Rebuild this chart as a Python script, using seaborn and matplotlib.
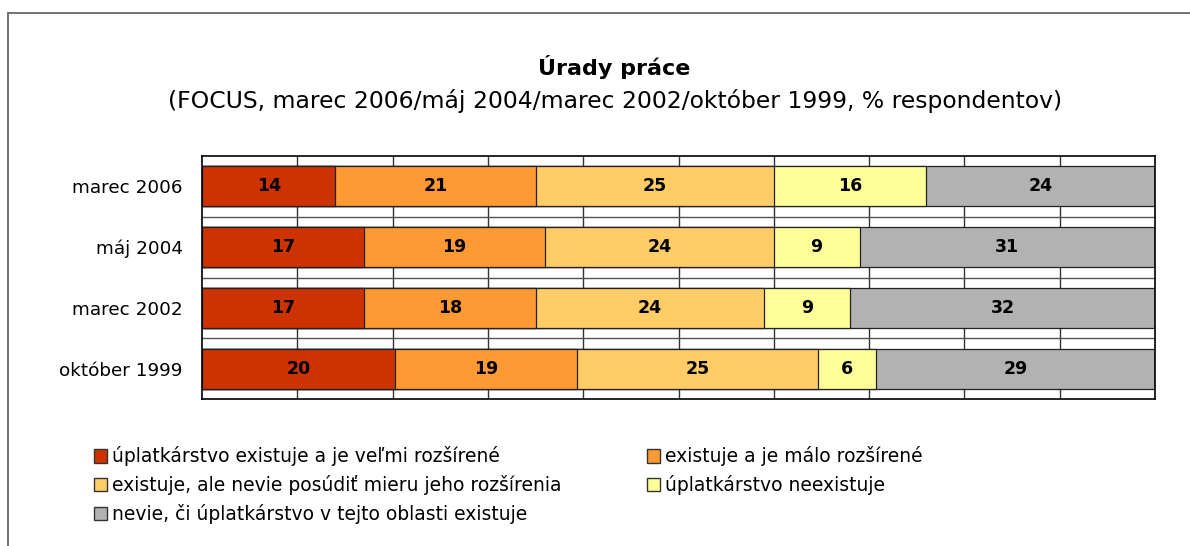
import numpy as np
import pandas as pd
import matplotlib
matplotlib.use("Agg")
import matplotlib.pyplot as plt
import matplotlib.patches as mpatches
import seaborn as sns

# ---- data ----
categories = ["marec 2006", "máj 2004", "marec 2002", "október 1999"]
series_names = [
    "úplatkárstvo existuje a je veľmi rozšírené",
    "existuje a je málo rozšírené",
    "existuje, ale nevie posúdiť mieru jeho rozšírenia",
    "úplatkárstvo neexistuje",
    "nevie, či úplatkárstvo v tejto oblasti existuje",
]
very_widespread = [14, 17, 17, 20]
little_widespread = [21, 19, 18, 19]
cannot_judge = [25, 24, 24, 25]
not_exist = [16, 9, 9, 6]
dont_know = [24, 31, 32, 29]
colors = ["#CC3300", "#FF9933", "#FFCC66", "#FFFF99", "#B2B2B2"]

title = "Úrady práce"
subtitle = "(FOCUS, marec 2006/máj 2004/marec 2002/október 1999, % respondentov)"

series = [very_widespread, little_widespread, cannot_judge, not_exist, dont_know]

sns.set_theme(style="white")
FONT = ["DejaVu Sans"]
plt.rcParams["font.family"] = FONT
plt.rcParams["text.color"] = "black"
plt.rcParams["ytick.color"] = "black"
plt.rcParams["ytick.labelcolor"] = "black"

fig = plt.figure(figsize=(11.9, 5.46), dpi=100)
ax = fig.add_axes([202 / 1190, 1 - 399 / 546, (1155 - 202) / 1190, (399 - 156) / 546])

# 100% stacked bars
vals = np.array(series, dtype=float)  # shape (5, 4)
totals = vals.sum(axis=0)
pct = vals / totals * 100
cum = np.cumsum(pct, axis=0)

df_rows = []
for i, name in enumerate(series_names):
    for j, cat in enumerate(categories):
        df_rows.append({"cat": cat, "series": name, "cum": cum[i, j],
                        "pct": pct[i, j], "val": vals[i, j]})
df = pd.DataFrame(df_rows)

# grid first (below bars)
for x in range(10, 100, 10):
    ax.axvline(x, color="#333333", lw=1.0, zorder=0)
for yb in [0.5, 1.5, 2.5]:
    ax.axhline(yb, color="#555555", lw=1.0, zorder=0)

for i in range(len(series_names) - 1, -1, -1):
    sub = df[df["series"] == series_names[i]]
    sns.barplot(data=sub, x="cum", y="cat", order=categories, orient="h",
                color=colors[i], saturation=1, width=0.66, edgecolor="#222222",
                linewidth=0.9, ax=ax, zorder=2)

# value labels
for i in range(len(series_names)):
    for j in range(len(categories)):
        center = cum[i, j] - pct[i, j] / 2
        ax.text(center, j, f"{int(vals[i, j])}", ha="center", va="center",
                fontsize=12.5, fontweight="bold", color="black", zorder=5)

ax.set_xlim(0, 100)
ax.set_ylim(3.5, -0.5)
ax.set_xlabel("")
ax.set_ylabel("")
ax.set_xticks([])
ax.tick_params(axis="y", length=0, pad=14, labelsize=13.2, labelcolor="black")
for s in ax.spines.values():
    s.set_color("black")
    s.set_linewidth(1.2)
    s.set_visible(True)

# titles
fig.text(614 / 1190, 1 - 67 / 546, title, ha="center", va="center",
         fontsize=16, fontweight="bold", color="black")
fig.text(615 / 1190, 1 - 101 / 546, subtitle, ha="center", va="center",
         fontsize=16.9, color="black")

# legends
handles = [mpatches.Patch(facecolor=c, edgecolor="#333333", linewidth=1.0) for c in colors]
common = dict(frameon=False, handlelength=0.72, handleheight=0.72,
              handletextpad=0.25, labelspacing=0.47, borderaxespad=0,
              prop={"size": 13.5}, labelcolor="black")
leg1 = fig.legend([handles[0], handles[2], handles[4]],
                  [series_names[0], series_names[2], series_names[4]],
                  loc="upper left", bbox_to_anchor=(86 / 1190, 1 - 439 / 546), **common)
leg2 = fig.legend([handles[1], handles[3]],
                  [series_names[1], series_names[3]],
                  loc="upper left", bbox_to_anchor=(639 / 1190, 1 - 439 / 546), **common)

# outer frame (cropped at right/bottom)
frame = mpatches.Rectangle((8 / 1190, -0.2), 1.5, 1.2 - 13 / 546, transform=fig.transFigure,
                           fill=False, edgecolor="#666666", lw=1.3)
fig.patches.append(frame)

fig.savefig("out.png", dpi=100, facecolor="white")
